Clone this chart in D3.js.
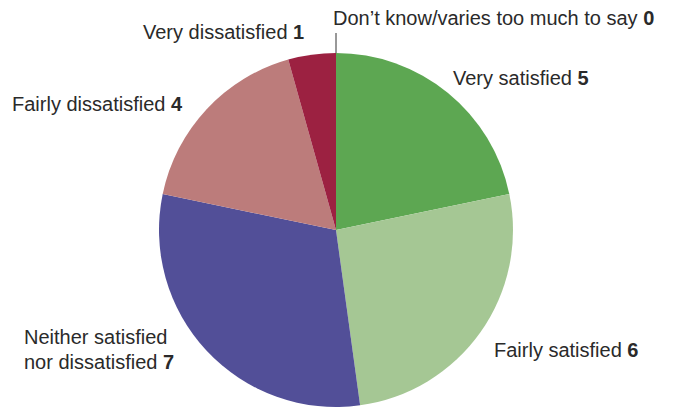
<!DOCTYPE html>
<html>
<head>
<meta charset="utf-8">
<script src="https://cdn.jsdelivr.net/npm/d3@7"></script>
<style>
  body { margin: 0; background: #fff; }
  text { font-family: "Liberation Sans", Arial, sans-serif; font-size: 20px; fill: #2a2a2a; }
</style>
</head>
<body>
<div id="chart"></div>
<script>
// answers, clockwise from 12 o'clock
var labels = ["Very satisfied", "Fairly satisfied", "Neither satisfied|nor dissatisfied",
              "Fairly dissatisfied", "Very dissatisfied", "Don\u2019t know/varies too much to say"]
var counts = [5, 6, 7, 4, 1, 0]
var colors = ["#5da752", "#a5c794", "#524f98", "#bc7c7b", "#9c2141", "#888"]

var width = 677, height = 408
var cx = 336, cy = 230, r = 177

var svg = d3.select("#chart")
  .append("svg")
    .attr("width", width)
    .attr("height", height)

var g = svg.append("g")
    .attr("transform", "translate(" + cx + "," + cy + ")")

var pie = d3.pie().sort(null).value(d => d)
var arc = d3.arc().innerRadius(0).outerRadius(r)
var slices = pie(counts)

g.selectAll("path")
  .data(slices)
  .enter().append("path")
    .attr("d", arc)
    .attr("fill", (d, i) => colors[i])

// label spots, relative to the pie centre (text start, baseline)
var spots = [[117, -145], [158, 127], [-312, 114], [-324, -119], [-193, -191], [-3, -205]]

labels.forEach(function (lab, i) {
  var lines = lab.split("|")
  var t = g.append("text")
    .attr("x", spots[i][0])
    .attr("y", spots[i][1])
  lines.forEach(function (ln, j) {
    t.append("tspan")
      .attr("x", spots[i][0])
      .attr("dy", j == 0 ? 0 : 25)
      .text(ln)
    if (j == lines.length - 1) {
      t.append("tspan").attr("font-weight", "bold").text(" " + counts[i])
    }
  })
})

// leader tick for the zero slice
g.append("line")
  .attr("x1", 0).attr("x2", 0)
  .attr("y1", -r - 20).attr("y2", -r)
  .attr("stroke", "#333")
  .attr("stroke-width", 1)
</script>
</body>
</html>
